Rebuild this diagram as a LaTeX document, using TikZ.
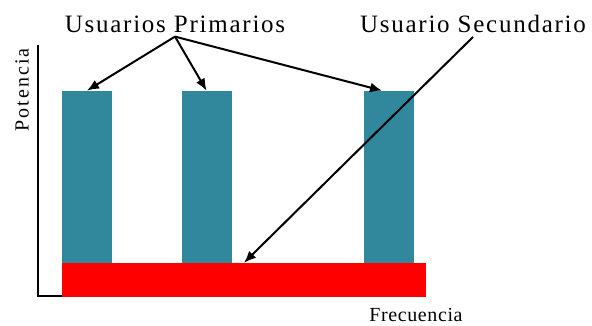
\documentclass[tikz,border=0pt]{standalone}
\usepackage{fontspec}
\setmainfont{Liberation Serif}
\usepackage{tikz}
\usetikzlibrary{arrows.meta, positioning}
\definecolor{teal}{HTML}{31879B}
\tikzstyle{bar} = [fill=teal, rectangle, inner sep=0pt, minimum width=50pt, minimum height=172pt, anchor=south]
\tikzstyle{label} = [font=\fontsize{25}{28}\selectfont\addfontfeature{LetterSpace=7}, inner xsep=2pt, inner ysep=4pt]
\tikzstyle{axislabel} = [font=\fontsize{20}{22}\selectfont, inner sep=0pt]

\begin{document}
\begin{tikzpicture}[x=1pt, y=-1pt, >={Latex[length=12pt,width=10pt]}]
    \useasboundingbox (0,0) rectangle (592,325);
    \draw[line width=2pt] (38,45) -- (38,296) -- (426,296);
    \node[bar] (b1) at (87,263) {};
    \node[bar] (b2) at (206.5,263) {};
    \node[bar] (b3) at (389,263) {};
    \node[fill=red, rectangle, inner sep=0pt, minimum width=364pt, minimum height=34pt] (sec) at (244,280) {};
    \node[label] (prim) at (175,24) {Usuarios Primarios};
    \node[label] (secl) at (473,24) {Usuario Secundario};
    \node[axislabel, rotate=90] (pot) at (22,90) {\addfontfeature{LetterSpace=10}Potencia};
    \node[axislabel] (frec) at (416,315) {\addfontfeature{LetterSpace=3}Frecuencia};
    \draw[->, line width=2pt] (prim.south) -- (b1.north);
    \draw[->, line width=2pt] (prim.south) -- (b2.north);
    \draw[->, line width=2pt] (prim.south) -- ([xshift=-7pt]b3.north);
    \draw[->, line width=2pt] (secl.south) -- (sec.north);
\end{tikzpicture}
\end{document}
